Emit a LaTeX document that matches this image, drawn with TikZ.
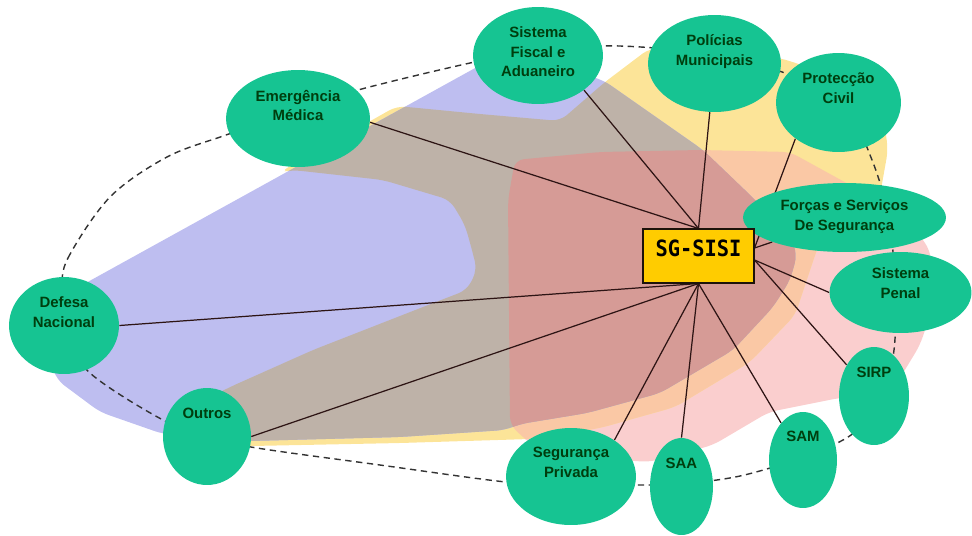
\documentclass[tikz,border=0pt]{standalone}
\usepackage{fontspec}
\usepackage{graphicx}
\setmainfont{Liberation Sans}
\newfontfamily\hubfont{DejaVu Sans Mono}
\usetikzlibrary{shapes.geometric}
\pgfdeclarelayer{bg}
\pgfdeclarelayer{conn}
\pgfsetlayers{bg,conn,main}

\definecolor{cBlue}{RGB}{190,190,240}
\definecolor{cYel}{RGB}{252,228,152}
\definecolor{cBrown}{RGB}{190,178,168}
\definecolor{cRed}{RGB}{214,155,150}
\definecolor{cPeach}{RGB}{250,200,165}
\definecolor{cPink}{RGB}{250,206,206}
\definecolor{cNode}{RGB}{22,196,146}
\definecolor{cText}{RGB}{0,62,14}
\definecolor{cBox}{RGB}{255,204,0}
\definecolor{cLine}{RGB}{45,20,20}

\newcommand{\blobB}{(486,62) -- (560,68) -- (603,80) -- (703,150) -- (750,195) -- (790,235) -- (797,255) -- (790,280) -- (773,307) -- (733,350) -- (660,393) -- (587,413) -- (520,424) -- (505,430) -- (400,437) -- (250,441) -- (163,434) -- (100,412) -- (57,380) -- (43,340) -- (55,300) -- cycle}
\newcommand{\blobY}{(280,172) -- (293,170) -- (383,180) -- (450,200) -- (465,225) -- (472,250) -- (477,270) -- (467,290) -- (423,307) -- (313,350) -- (230,387) -- (195,405) -- (190,430) -- (215,444) -- (251,446) -- (400,443) -- (530,439) -- (600,428) -- (675,407) -- (750,362) -- (795,315) -- (815,255) -- (830,215) -- (880,195) -- (888,150) -- (880,90) -- (780,58) -- (650,48) -- (605,82) -- (560,121) -- (480,114) -- (397,106) -- cycle}
\newcommand{\blobP}{(515,160) -- (600,152) -- (700,150) -- (790,152) -- (850,185) -- (905,215) -- (930,250) -- (935,300) -- (920,345) -- (900,378) -- (860,396) -- (839,398) -- (769,412) -- (713,445) -- (650,462) -- (590,458) -- (535,448) -- (510,425) -- (508,200) -- cycle}
\newcommand{\liftlbl}[2]{\raisebox{#1}[0pt][0pt]{\begin{tabular}{@{}c@{}}#2\end{tabular}}}

\begin{document}
\begin{tikzpicture}[x=0.02cm, y=-0.02cm,
  esize/.style 2 args={minimum width=#1*0.04cm, minimum height=#2*0.04cm},
  org/.style={ellipse, fill=cNode, inner sep=0pt, text=cText,
    font=\bfseries\fontsize{8.5}{11}\selectfont},
  hub/.style={rectangle, fill=cBox, draw=black!85!brown, line width=0.6pt,
    minimum width=2.22cm, minimum height=1.08cm, inner sep=0pt},
  conn/.style={draw=cLine, line width=0.7pt},
  fence/.style={draw=black!80, line width=0.8pt, dash pattern=on 3.6pt off 2.6pt}]
\useasboundingbox (0,0) rectangle (972,535);

% nodes
\node[org, esize={72}{48.5}] (em) at (298,118.5) {\liftlbl{4.4pt}{Emergência\\Médica}};
\node[org, esize={65}{48.5}] (sf) at (538,55.5) {\liftlbl{-0.7pt}{Sistema\\Fiscal e\\Aduaneiro}};
\node[org, esize={66.5}{48.5}] (pm) at (714.5,63.5) {\liftlbl{4.7pt}{Polícias\\Municipais}};
\node[org, esize={62.5}{49.5}] (pc) at (838.5,102.5) {\liftlbl{5.3pt}{Protecção\\Civil}};
\node[org, esize={101.5}{34.5}] (fs) at (844.5,217.5) {\liftlbl{-1.5pt}{Forças e Serviços\\De Segurança}};
\node[org, esize={71}{40.5}] (sp) at (900.5,292.5) {\liftlbl{2.4pt}{Sistema\\Penal}};
\node[org, esize={35}{49}] (sirp) at (874,396) {\liftlbl{11pt}{SIRP}};
\node[org, esize={34}{48}] (sam) at (803,460) {\liftlbl{11pt}{SAM}};
\node[org, esize={31.5}{48.5}] (saa) at (681.5,486.5) {\liftlbl{10.4pt}{SAA}};
\node[org, esize={65}{48.5}] (seg) at (571,476.5) {\liftlbl{5.3pt}{Segurança\\Privada}};
\node[org, esize={44}{48.5}] (ou) at (207,436.5) {\liftlbl{10.4pt}{Outros}};
\node[org, esize={55}{48.5}] (dn) at (64,325.5) {\liftlbl{4.7pt}{Defesa\\Nacional}};
\node[hub] (hub) at (698.5,256) {\raisebox{0pt}[0pt][0pt]{\hubfont\bfseries\fontsize{11.6}{12}\selectfont\scalebox{1}[1.1]{SG-SISI}}};

% background blobs and dashed boundary
\begin{pgfonlayer}{bg}
\begin{scope}[rounded corners=5pt]
  \fill[cPink] \blobP;
  \fill[cYel] \blobY;
  \begin{scope}
    \clip \blobY;
    \fill[cPeach] \blobP;
  \end{scope}
  \fill[cBlue] \blobB;
  \begin{scope}
    \clip \blobB;
    \fill[cBrown] \blobY;
    \begin{scope}
      \clip \blobY;
      \fill[cRed] \blobP;
    \end{scope}
  \end{scope}
\end{scope}
\draw[fence] plot[smooth cycle, tension=0.55] coordinates {(62,290) (68,258) (110,197) (167,157) (226,135) (298,110) (358,90) (470,63) (540,50) (620,46) (715,55) (790,75) (845,108) (872,160) (888,215) (895,280) (894,350) (880,400) (851,435) (800,458) (740,476) (681,484) (640,485) (571,485) (506,482) (380,465) (251,447) (207,435) (163,420) (90,373) (64,330)};
\end{pgfonlayer}

% connectors
\begin{pgfonlayer}{conn}
\draw[conn] (hub.north) -- (em.-3);
\draw[conn] (hub.north) -- (sf.-37);
\draw[conn] (hub.north) -- (pm);
\draw[conn] ([yshift=0.16cm]hub.east) -- (pc.220);
\draw[conn] ([yshift=0.16cm]hub.east) -- (fs);
\draw[conn] ([yshift=-0.08cm]hub.east) -- (sp.west);
\draw[conn] ([yshift=-0.08cm]hub.east) -- (sirp);
\draw[conn] (hub.south) -- (dn.east);
\draw[conn] (hub.south) -- (ou.east);
\draw[conn] (hub.south) -- (seg.40);
\draw[conn] (hub.south) -- (saa.north);
\draw[conn] (hub.south) -- (sam);
\end{pgfonlayer}
\end{tikzpicture}
\end{document}
